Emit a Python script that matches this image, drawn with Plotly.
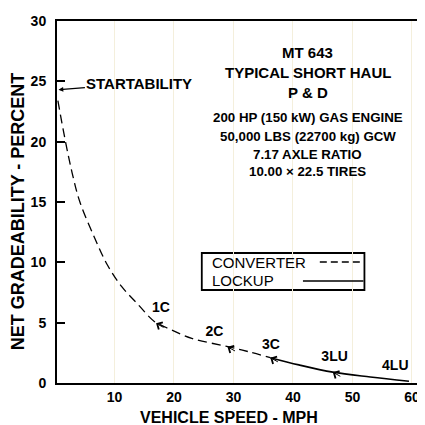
import plotly.graph_objects as go

# Data
conv_speed = [0.5, 1.7, 2.9, 4.2, 6.7, 8.8, 11.2, 13.8, 16.7, 18.7, 23.0, 28.7, 32.5, 36.2]
conv_grade = [23.4, 20.2, 17.4, 15.0, 12.0, 9.8, 8.0, 6.6, 5.1, 4.6, 3.7, 3.05, 2.6, 2.1]
lock_speed = [36.2, 41.0, 46.7, 53.0, 59.5]
lock_grade = [2.1, 1.5, 0.9, 0.5, 0.15]
shift_speed = [17.0, 29.0, 36.2, 46.7]
shift_grade = [4.95, 3.0, 2.1, 0.9]
shift_labels = ["1C", "2C", "3C", "3LU", "4LU"]
label_speed = [17.8, 26.8, 36.3, 47.0, 57.2]
label_grade = [6.2, 4.2, 3.1, 2.1, 1.4]
x_ticks = [10, 20, 30, 40, 50, 60]
y_ticks = [0, 5, 10, 15, 20, 25, 30]
info_lines = ["MT 643", "TYPICAL SHORT HAUL", "P & D",
              "200 HP (150 kW) GAS ENGINE", "50,000 LBS (22700 kg) GCW",
              "7.17 AXLE RATIO", "10.00 \u00d7 22.5 TIRES"]
info_y = [27.4, 25.75, 24.1, 22.0, 20.45, 18.95, 17.5]
info_size = [15, 15, 15, 13.3, 13.3, 13.3, 13.3]

SANS = "Liberation Sans, Arial, Helvetica"

# plot area in page pixels (page has an 8px body margin)
PX0, PX1, PY0, PY1 = 57, 420, 21, 383


def px(x):
    return (x - PX0) / (PX1 - PX0)


def py(y):
    return (PY1 - y) / (PY1 - PY0)


fig = go.Figure()
fig.add_trace(go.Scatter(x=conv_speed, y=conv_grade, mode="lines", line_shape="spline",
                         line=dict(color="black", width=1.3, dash="9px,5px"),
                         name="CONVERTER", hoverinfo="skip"))
fig.add_trace(go.Scatter(x=lock_speed, y=lock_grade, mode="lines", line_shape="spline",
                         line=dict(color="black", width=1.6),
                         name="LOCKUP", hoverinfo="skip"))
fig.add_trace(go.Scatter(x=label_speed, y=label_grade, mode="text", text=shift_labels,
                         textfont=dict(family=SANS, size=14, color="black"),
                         texttemplate="<b>%{text}</b>", hoverinfo="skip"))

# shift-point chevrons
for sx, sy in zip(shift_speed, shift_grade):
    fig.add_annotation(x=sx, y=sy, xref="x", yref="y", ax=9, ay=5, text="",
                       showarrow=True, arrowhead=4, arrowsize=1.6, arrowwidth=1,
                       arrowcolor="black", standoff=0)

for txt, yy, sz in zip(info_lines, info_y, info_size):
    fig.add_annotation(x=42.5, y=yy, xref="x", yref="y", text="<b>%s</b>" % txt,
                       showarrow=False, font=dict(family=SANS, size=sz, color="black"))

fig.add_annotation(x=0.6, y=24.3, xref="x", yref="y", ax=14.2, ay=24.85,
                   axref="x", ayref="y", text="<b>STARTABILITY</b>",
                   font=dict(family=SANS, size=15, color="black"),
                   showarrow=True, arrowhead=2, arrowsize=0.8, arrowwidth=1.2,
                   arrowcolor="black")

# axis titles
fig.add_annotation(x=px(230), y=py(417), xref="paper", yref="paper",
                   text="<b>VEHICLE SPEED - MPH</b>", showarrow=False,
                   xanchor="center", yanchor="middle",
                   font=dict(family=SANS, size=16, color="black"))
fig.add_annotation(x=px(18), y=py(211), xref="paper", yref="paper",
                   text="<b>NET GRADEABILITY - PERCENT</b>", showarrow=False,
                   textangle=-90, xanchor="center", yanchor="middle",
                   font=dict(family=SANS, size=18, color="black"))

# custom legend (text left, line sample right)
fig.add_shape(type="rect", xref="paper", yref="paper",
              x0=px(203), x1=px(367), y0=py(290), y1=py(253),
              line=dict(color="black", width=1.8), fillcolor="white", layer="below")
fig.add_annotation(x=px(211), y=py(263), xref="paper", yref="paper",
                   text="CONVERTER", showarrow=False, xanchor="left", yanchor="middle",
                   font=dict(family=SANS, size=15, color="black"))
fig.add_annotation(x=px(211), y=py(280), xref="paper", yref="paper",
                   text="LOCKUP", showarrow=False, xanchor="left", yanchor="middle",
                   font=dict(family=SANS, size=15, color="black"))
fig.add_shape(type="line", xref="paper", yref="paper",
              x0=px(322), x1=px(366), y0=py(262), y1=py(262),
              line=dict(color="black", width=1.3, dash="7px,4px"))
fig.add_shape(type="line", xref="paper", yref="paper",
              x0=px(305), x1=px(366), y0=py(281), y1=py(281),
              line=dict(color="black", width=1.6))

fig.update_layout(
    width=417, height=417,
    margin=dict(l=PX0 - 8, r=425 - PX1, t=PY0 - 8, b=425 - PY1),
    paper_bgcolor="white", plot_bgcolor="white",
    showlegend=False,
    font=dict(family=SANS, color="black"),
    xaxis=dict(range=[0.35, 60.85], tickvals=x_ticks,
               ticktext=["<b>%d</b>" % v for v in x_ticks],
               tickfont=dict(family=SANS, size=14, color="black"),
               showline=True, linecolor="black", linewidth=2, mirror=True,
               showgrid=True, gridcolor="#f4efdc", gridwidth=1, zeroline=False,
               ticks="", ticklabelstandoff=0),
    yaxis=dict(range=[0, 30], tickvals=y_ticks,
               ticktext=["<b>%d</b>" % v for v in y_ticks],
               tickfont=dict(family=SANS, size=14, color="black"),
               showline=True, linecolor="black", linewidth=2, mirror=True,
               showgrid=False, zeroline=False,
               ticks="inside", ticklen=8, tickwidth=2, tickcolor="black",
               ticklabelstandoff=6),
)

fig.write_html("out.html")
